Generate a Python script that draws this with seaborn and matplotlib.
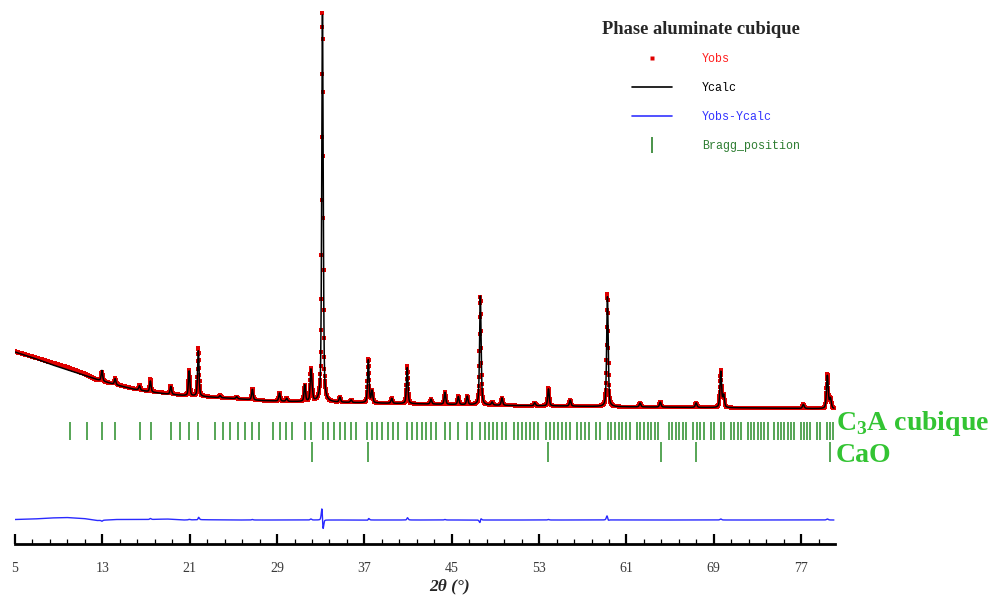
import numpy as np
import pandas as pd
import matplotlib
matplotlib.use("Agg")
import matplotlib.pyplot as plt
from matplotlib.lines import Line2D
from matplotlib.font_manager import FontProperties
import matplotlib.transforms as mtransforms
import seaborn as sns

# ---------------- data ----------------
# background control points (2theta, intensity a.u.)
bg_tt = [5, 6.7, 8.2, 9.7, 11.3, 12.5, 14.3, 15.8, 17.4, 18.9, 20.4, 22, 25, 27.5,
         30, 35, 40, 45, 50, 55, 60, 65, 70, 75, 80]
bg_calc = [192, 186, 180, 174.5, 169, 164.5, 159, 155, 152, 150, 148.5, 147.5, 145.5,
           143.5, 142.5, 141.5, 140.5, 139.5, 138.5, 138, 137.2, 136.8, 136.3, 135.8, 135.2]
bg_obs = [192.5, 187, 182, 177, 170.5, 164, 159.5, 155.5, 152.5, 151, 148.5, 147.8, 145.5,
          143.5, 142.5, 141.5, 140.5, 139.5, 138.5, 138, 137.2, 136.8, 136.3, 135.8, 135.2]

# peaks: position (2theta), calculated height, observed height, observed shift
peak_pos = [12.96, 14.17, 16.40, 17.40, 19.27, 20.95, 21.79, 23.78, 25.30, 26.74,
            29.22, 29.88, 31.54, 32.10, 32.22, 33.16, 34.75, 35.78, 37.36, 37.70,
            39.50, 40.92, 43.10, 44.38, 45.60, 46.42, 47.62, 48.70, 49.60, 52.60,
            53.86, 55.85, 59.26, 62.25, 64.10, 67.38, 69.64, 69.90, 77.20, 79.40, 79.68]
calc_h = [10.5, 6, 4.5, 11, 8, 25, 46, 2, 2, 10.5,
          8, 3, 16.5, 30, 8, 387, 5, 2.5, 43, 12,
          5, 36, 5, 12, 8, 8.5, 109, 3, 7.5, 3,
          17, 6, 110, 4, 5, 4.5, 36, 12, 4, 33, 10]
obs_h = [9.5, 6, 4.5, 12, 8, 25.5, 48, 2, 2, 11,
         8, 3, 16.5, 31, 8, 389, 5, 2.5, 44, 12,
         5, 38, 5, 12.5, 8, 8.5, 108, 3, 7.5, 3,
         17.5, 6, 113, 4, 5, 4.5, 37, 12, 4, 34, 10]
obs_shift = [0, 0, 0, 0, 0, 0, 0.002, 0, 0, 0,
             0, 0, 0, 0, 0, -0.003, 0, 0, 0.002, 0,
             0, 0.002, 0, 0, 0, 0, 0.002, 0, 0, 0,
             0, 0, -0.002, 0, 0, 0, 0, 0, 0, 0, 0]
# Caglioti width parameters and pseudo-Voigt mixing
U, V, W, ETA = 0.02, -0.005, 0.025, 0.45

# Bragg reflections: C3A cubic (Pa-3, a = 15.263 A) listed as h2+k2+l2
c3a_a = 15.263
c3a_N = [3, 4, 5, 6, 8, 9, 11, 12, 13, 14, 16, 17, 18, 19, 20, 21, 22, 24, 25, 26,
         27, 29, 30, 32, 33, 34, 35, 36, 37, 38, 40, 41, 42, 43, 44, 45, 46, 48, 49,
         50, 51, 52, 53, 54, 56, 57, 59, 61, 62, 64, 65, 66, 67, 68, 69, 70, 72, 73,
         74, 75, 76, 77, 78, 80, 81, 82, 83, 84, 85, 86, 88, 89, 90, 91, 93, 94, 96,
         97, 98, 99, 100, 101, 102, 104, 105, 106, 107, 108, 109, 110, 113, 114, 115,
         116, 117, 118, 120, 121, 122, 123, 125, 126, 128, 129, 131, 132, 133, 134,
         136, 137, 138, 139, 140, 141, 142, 144, 145, 146, 147, 148, 149, 150, 152,
         153, 154, 155, 157, 158, 160, 161, 162]
# CaO (Fm-3m, a = 4.811 A)
cao_a = 4.811
cao_N = [3, 4, 8, 11, 12, 16]
wavelength = 1.5406

x_ticks = [5, 13, 21, 29, 37, 45, 53, 61, 69, 77]

# ---------------- build the profiles ----------------
tt = np.round(np.arange(5.0, 80.0 + 1e-9, 0.02), 4)


def profile(heights, shifts, bgy):
    y = np.interp(tt, bg_tt, bgy)
    for p, h, s in zip(peak_pos, heights, shifts):
        th = np.radians((p + s) / 2)
        fw = np.sqrt(U * np.tan(th) ** 2 + V * np.tan(th) + W)
        d = tt - (p + s)
        g = np.exp(-4 * np.log(2) * (d / fw) ** 2)
        l = 1 / (1 + 4 * (d / fw) ** 2)
        y = y + h * (ETA * l + (1 - ETA) * g)
    return y


ycalc = profile(calc_h, [0] * len(peak_pos), bg_calc)
yobs = profile(obs_h, obs_shift, bg_obs)
diff_offset = 24
ydiff = yobs - ycalc + diff_offset

df = pd.DataFrame({"tt": tt, "Yobs": yobs, "Ycalc": ycalc, "diff": ydiff})


def bragg(a, Ns):
    s = wavelength * np.sqrt(np.array(Ns, float)) / (2 * a)
    t = 2 * np.degrees(np.arcsin(s))
    return t[t <= 80.05]


c3a_tt = bragg(c3a_a, c3a_N)
cao_tt = bragg(cao_a, cao_N)

# ---------------- plotting ----------------
sns.set_theme(style="white")
plt.rcParams["font.family"] = ["Liberation Serif", "DejaVu Serif"]
plt.rcParams["mathtext.fontset"] = "custom"
plt.rcParams["mathtext.rm"] = "Liberation Serif:bold"
plt.rcParams["mathtext.bf"] = "Liberation Serif:bold"

fig = plt.figure(figsize=(9.89, 5.95), dpi=100)
ax = fig.add_axes([15 / 989, 51 / 595, 820 / 989, 534 / 595])

sns.scatterplot(data=df, x="tt", y="Yobs", ax=ax, color="#e00000", marker="s",
                s=5, linewidth=0, zorder=2, legend=False)
sns.lineplot(data=df, x="tt", y="Ycalc", ax=ax, color="black", lw=1.1,
             estimator=None, sort=False, zorder=3)
sns.lineplot(data=df, x="tt", y="diff", ax=ax, color="#2a2aff", lw=1.0,
             estimator=None, sort=False, zorder=3)

green = "#3a963a"
ax.vlines(c3a_tt, 104, 122.5, color=green, lw=1.2, zorder=2)
ax.vlines(cao_tt, 82, 102, color=green, lw=1.2, zorder=2)

ax.set_xlim(5, 80.1)
ax.set_ylim(0, 534)
ax.set_yticks([])
ax.set_ylabel("")
for s in ["left", "right", "top"]:
    ax.spines[s].set_visible(False)
ax.spines["bottom"].set_linewidth(2.0)
ax.spines["bottom"].set_color("black")

ax.set_xticks(x_ticks)
ax.set_xticklabels([str(v) for v in x_ticks])
ax.set_xticks(np.arange(5, 80.1, 1.6), minor=True)
ax.tick_params(axis="x", which="major", direction="in", length=7.5, width=1.6,
               color="black", pad=13, labelsize=10, labelcolor="#3a3a3a", bottom=True)
ax.tick_params(axis="x", which="minor", direction="in", length=3.6, width=0.9,
               color="black", bottom=True)
ax.set_xlabel("2θ (°)", fontsize=12.5, fontweight="bold", fontstyle="italic")
ax.xaxis.set_label_coords(0.53, -0.064)
ax.xaxis.label.set_va("top")

# phase labels at the right
trans = mtransforms.blended_transform_factory(ax.transAxes, ax.transData)
ax.text(1.001, 114.5, r"C$_{3}$A cubique", transform=trans, ha="left", va="baseline",
        fontsize=20, fontweight="bold", color="#33c433", clip_on=False)
ax.text(1.001, 81.5, "CaO", transform=trans, ha="left", va="baseline",
        fontsize=20, fontweight="bold", color="#33c433", clip_on=False)

# legend
handles = [
    Line2D([], [], ls="none", marker="s", ms=2.5, color="#e00000", mec="none"),
    Line2D([], [], color="black", lw=1.2),
    Line2D([], [], color="#3333ff", lw=1.2),
    Line2D([], [], ls="none", marker="|", ms=12, mew=1.3, color="#3a8a3a"),
]
labels = ["Yobs", "Ycalc", "Yobs-Ycalc", "Bragg_position"]
leg = ax.legend(handles, labels, loc="upper left",
                bbox_to_anchor=(632 / 989, 1 - 53 / 595),
                bbox_transform=fig.transFigure, frameon=False,
                prop=FontProperties(family="Liberation Mono", size=8.4),
                handlelength=3.4, handletextpad=2.6, labelspacing=1.45,
                borderpad=0, borderaxespad=0)
for t, c in zip(leg.get_texts(), ["#ff2020", "black", "#3333ff", "#2e7d32"]):
    t.set_color(c)

fig.text(701 / 989, 1 - 29 / 595, "Phase aluminate cubique", ha="center",
         va="center", fontsize=13.3, fontweight="bold", family="Liberation Serif")

fig.savefig("out.png", dpi=100)
